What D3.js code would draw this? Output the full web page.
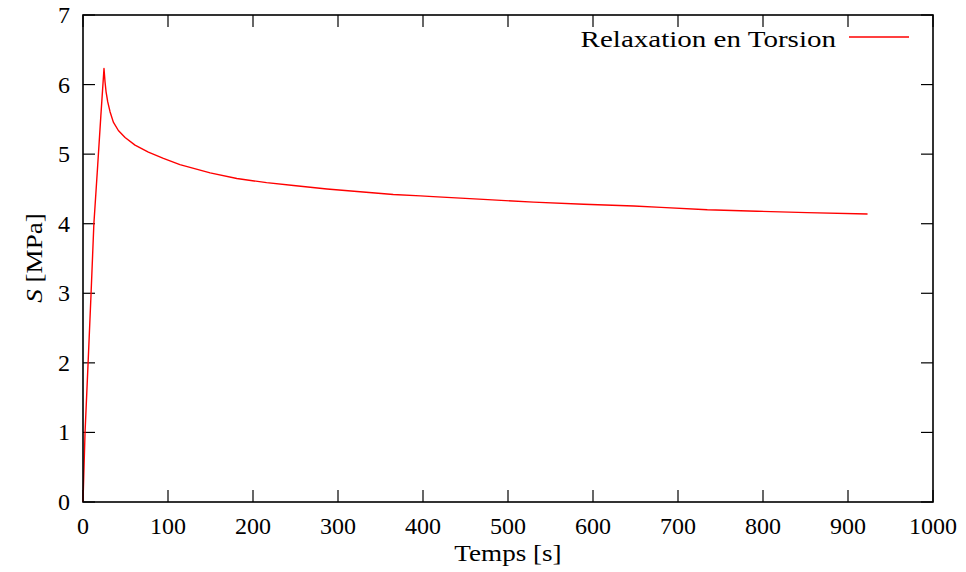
<!DOCTYPE html>
<html><head><meta charset="utf-8">
<script src="https://cdn.jsdelivr.net/npm/d3@7"></script>
<style>body{margin:0;background:#fff}svg{display:block}text{font-family:"Liberation Serif","Times New Roman",serif;fill:#000}</style>
</head><body><svg id="c" width="966" height="572"></svg>
<script>
const time = [0,2.4,6,9.5,12.8,17.3,21,24.7,25.9,27.1,29.1,31.8,35.7,41.6,49.5,61.2,76.9,94.6,114,149.6,181,216,247.7,287,326,365,397,412,471,530,589,648,680,734.5,793,852,923];
const stress = [0,1,2,3,4,4.84,5.55,6.23,6.04,5.90,5.75,5.61,5.46,5.34,5.24,5.13,5.03,4.94,4.85,4.73,4.65,4.59,4.55,4.50,4.46,4.42,4.40,4.39,4.35,4.31,4.28,4.255,4.235,4.20,4.18,4.16,4.14];
const xTicks = [0,100,200,300,400,500,600,700,800,900,1000];
const yTicks = [0,1,2,3,4,5,6,7];
const seriesName = "Relaxation en Torsion";

const svg = d3.select("#c");
const L=83,R=933,T=15,B=502;
const x = d3.scaleLinear().domain([0,1000]).range([L,R]);
const y = d3.scaleLinear().domain([0,7]).range([B,T]);
const fs = 24;

// ticks (mirrored, inward)
const tk = svg.append("g").attr("stroke","#000").attr("stroke-width",1.2);
xTicks.forEach(v=>{
  tk.append("line").attr("x1",x(v)).attr("x2",x(v)).attr("y1",B).attr("y2",B-12);
  tk.append("line").attr("x1",x(v)).attr("x2",x(v)).attr("y1",T).attr("y2",T+12);
});
yTicks.forEach(v=>{
  tk.append("line").attr("x1",L).attr("x2",L+12).attr("y1",y(v)).attr("y2",y(v));
  tk.append("line").attr("x1",R).attr("x2",R-12).attr("y1",y(v)).attr("y2",y(v));
});

// data line
svg.append("path").datum(time.map((t,i)=>[t,stress[i]]))
  .attr("fill","none").attr("stroke","#ff0000").attr("stroke-width",1.4)
  .attr("stroke-linejoin","round")
  .attr("d",d3.line().x(d=>x(d[0])).y(d=>y(d[1])));

// frame
svg.append("rect").attr("x",L).attr("y",T).attr("width",R-L).attr("height",B-T)
  .attr("fill","none").attr("stroke","#000").attr("stroke-width",1.6);

// tick labels
svg.append("g").selectAll("text").data(xTicks).join("text")
  .attr("x",d=>x(d)).attr("y",534).attr("text-anchor","middle").attr("font-size",fs).text(d=>d);
svg.append("g").selectAll("text").data(yTicks).join("text")
  .attr("x",70).attr("y",d=>y(d)+8).attr("text-anchor","end").attr("font-size",fs).text(d=>d);

// axis titles
svg.append("text").attr("transform",`translate(${(L+R)/2},561) scale(1.13,1)`).attr("text-anchor","middle").attr("font-size",fs)
  .text("Temps [s]");
const yl = svg.append("text").attr("transform","translate(42,258) rotate(-90) scale(1.13,1)").attr("text-anchor","middle").attr("font-size",fs);
yl.append("tspan").attr("font-style","italic").text("S");
yl.append("tspan").text(" [MPa]");

// legend
svg.append("text").attr("transform","translate(836,47) scale(1.21,1)").attr("text-anchor","end").attr("font-size",fs)
  .text(seriesName);
svg.append("line").attr("x1",849).attr("x2",909).attr("y1",37).attr("y2",37).attr("stroke","#ff0000").attr("stroke-width",1.4);
</script></body></html>
